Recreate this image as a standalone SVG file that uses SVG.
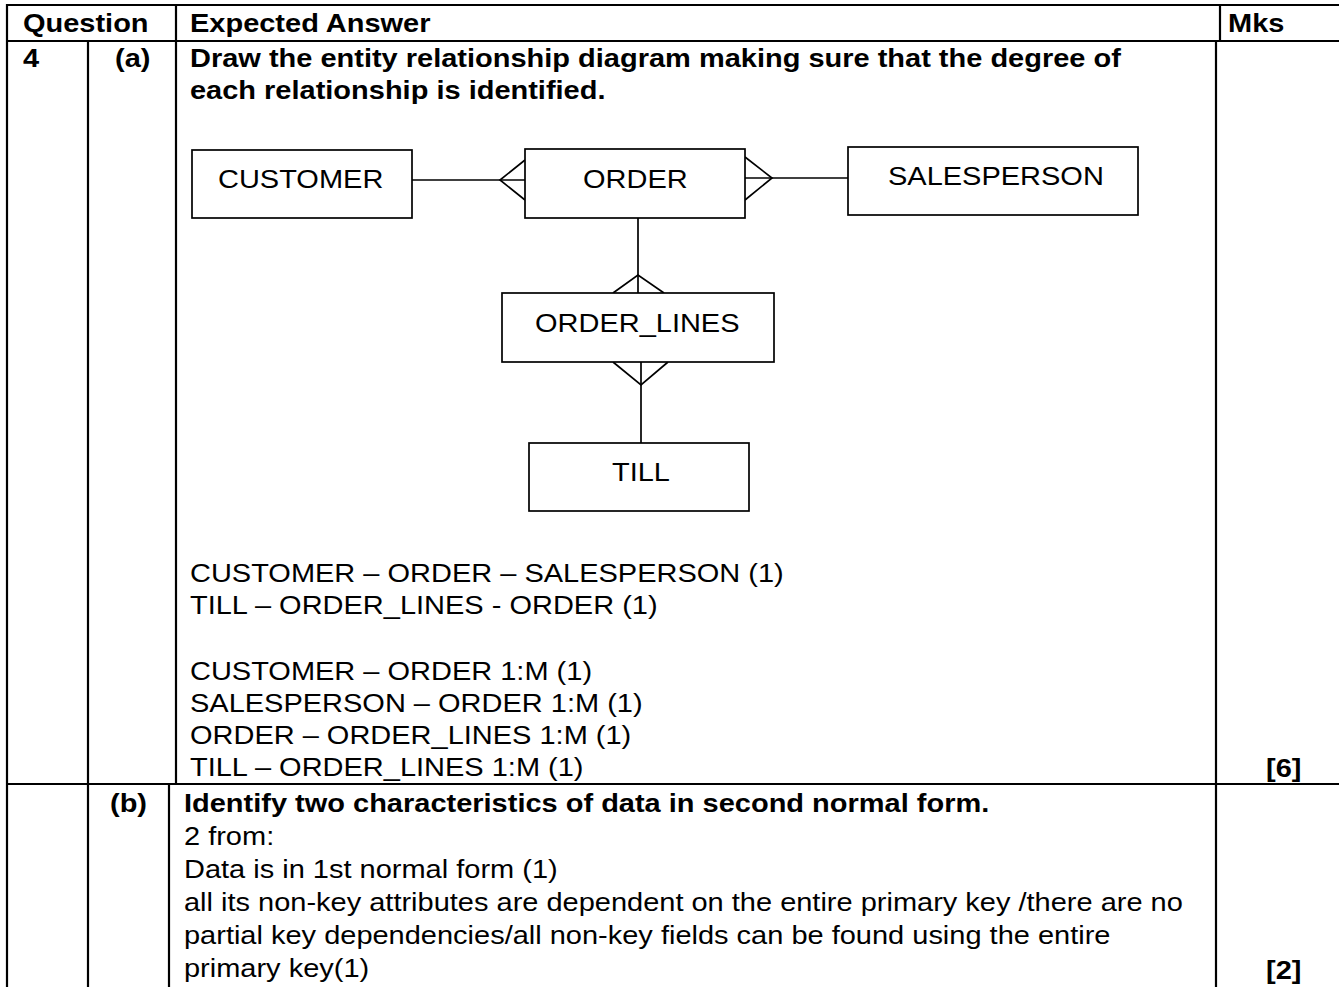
<svg xmlns="http://www.w3.org/2000/svg" width="1339" height="987" viewBox="0 0 1339 987">
<style>
.t{font-family:"Liberation Sans",Arial,sans-serif;font-size:26.5px;fill:#000}
.b{font-weight:bold}
.grid line{stroke:#000;stroke-width:2.2}
.box{fill:#fff;stroke:#000;stroke-width:1.7}
.conn line,.conn polyline{stroke:#000;stroke-width:1.7;fill:none}
</style>
<rect width="1339" height="987" fill="#fff"/>
<g id="table" class="grid">
<line x1="6" y1="5" x2="1339" y2="5"/>
<line x1="6" y1="41" x2="1339" y2="41"/>
<line x1="6" y1="784" x2="1339" y2="784"/>
<line x1="7" y1="4" x2="7" y2="987"/>
<line x1="88" y1="41" x2="88" y2="987"/>
<line x1="176" y1="4" x2="176" y2="784"/>
<line x1="169" y1="784" x2="169" y2="987"/>
<line x1="1220" y1="4" x2="1220" y2="41"/>
<line x1="1216" y1="41" x2="1216" y2="987"/>
</g>
<g id="texts" transform="scale(1.094,1)">
<text class="t b" x="21.02" y="32">Question</text>
<text class="t b" x="173.67" y="32">Expected Answer</text>
<text class="t b" x="1122.49" y="32">Mks</text>
<text class="t b" x="21.02" y="67">4</text>
<text class="t b" x="105.12" y="67">(a)</text>
<text class="t b" x="173.67" y="67">Draw the entity relationship diagram making sure that the degree of</text>
<text class="t b" x="173.67" y="99">each relationship is identified.</text>
<text class="t" x="173.67" y="582">CUSTOMER – ORDER – SALESPERSON (1)</text>
<text class="t" x="173.67" y="614">TILL – ORDER_LINES - ORDER (1)</text>
<text class="t" x="173.67" y="680">CUSTOMER – ORDER 1:M (1)</text>
<text class="t" x="173.67" y="712">SALESPERSON – ORDER 1:M (1)</text>
<text class="t" x="173.67" y="744">ORDER – ORDER_LINES 1:M (1)</text>
<text class="t" x="173.67" y="776">TILL – ORDER_LINES 1:M (1)</text>
<text class="t b" x="1157.22" y="777">[6]</text>
<text class="t b" x="100.55" y="812">(b)</text>
<text class="t b" x="168.19" y="812">Identify two characteristics of data in second normal form.</text>
<text class="t" x="168.19" y="845">2 from:</text>
<text class="t" x="168.19" y="878">Data is in 1st normal form (1)</text>
<text class="t" x="168.19" y="911">all its non-key attributes are dependent on the entire primary key /there are no</text>
<text class="t" x="168.19" y="944">partial key dependencies/all non-key fields can be found using the entire</text>
<text class="t" x="168.19" y="977">primary key(1)</text>
<text class="t b" x="1157.22" y="979">[2]</text>
</g>
<g id="connectors" class="conn">
<line x1="412" y1="180" x2="525" y2="180"/>
<polyline points="525,160 500,180 525,200"/>
<line x1="745" y1="178" x2="848" y2="178"/>
<polyline points="745,157 772,178 745,200"/>
<line x1="638" y1="218" x2="638" y2="293"/>
<polyline points="613,293 638,275 664,293"/>
<line x1="641" y1="362" x2="641" y2="443"/>
<polyline points="613,362 641,385 668,362"/>
</g>
<g id="customer">
<rect class="box" x="192" y="150" width="220" height="68"/>
<text class="t" transform="scale(1.094,1)" x="199.27" y="188">CUSTOMER</text>
</g>
<g id="order">
<rect class="box" x="525" y="149" width="220" height="69"/>
<text class="t" transform="scale(1.094,1)" x="532.91" y="188">ORDER</text>
</g>
<g id="salesperson">
<rect class="box" x="848" y="147" width="290" height="68"/>
<text class="t" transform="scale(1.094,1)" x="811.70" y="185">SALESPERSON</text>
</g>
<g id="order_lines">
<rect class="box" x="502" y="293" width="272" height="69"/>
<text class="t" transform="scale(1.094,1)" x="489.03" y="332">ORDER_LINES</text>
</g>
<g id="till">
<rect class="box" x="529" y="443" width="220" height="68"/>
<text class="t" transform="scale(1.094,1)" x="559.41" y="481">TILL</text>
</g>
</svg>
